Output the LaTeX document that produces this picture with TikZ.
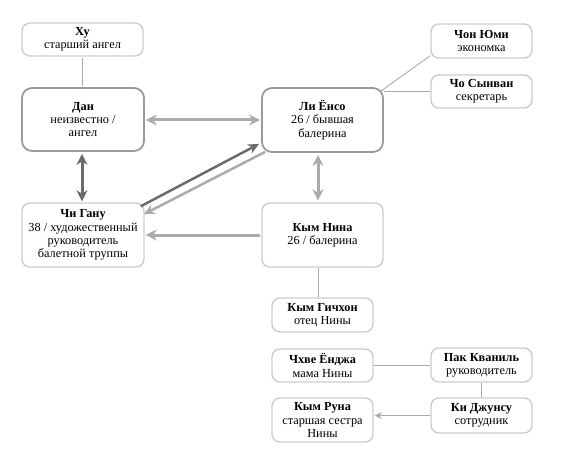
\documentclass[tikz,border=0pt]{standalone}
\usepackage{fontspec}
\setmainfont{Liberation Serif}
\usetikzlibrary{arrows.meta,calc}
\definecolor{lightbd}{HTML}{CCCCCC}
\definecolor{darkbd}{HTML}{9A9A9A}
\definecolor{arrgray}{HTML}{ABABAB}
\definecolor{arrdark}{HTML}{6B6B6B}
\definecolor{thinln}{HTML}{AAAAAA}
\tikzset{
  box/.style={draw=lightbd, line width=1.4pt, rounded corners=8pt, align=center,
    inner sep=0pt, font=\fontsize{12.3}{13.3}\selectfont, text=black},
  mainbox/.style={box, draw=darkbd, line width=1.8pt, rounded corners=10pt},
  thickarr/.style={draw=arrgray, line width=3pt, -{Stealth[length=11pt,width=11pt,inset=3.5pt]}},
  thickdbl/.style={draw=arrgray, line width=3pt, {Stealth[length=11pt,width=11pt,inset=3.5pt]}-{Stealth[length=11pt,width=11pt,inset=3.5pt]}},
  darkdbl/.style={draw=arrdark, line width=3pt, {Stealth[length=11pt,width=11pt,inset=3.5pt]}-{Stealth[length=11pt,width=11pt,inset=3.5pt]}},
  darkarr/.style={draw=arrdark, line width=2.5pt, -{Stealth[length=11pt,width=10pt,inset=3.5pt]}},
  lightarr/.style={draw=arrgray, line width=2.5pt, -{Stealth[length=11pt,width=10pt,inset=3.5pt]}},
  thin/.style={draw=thinln, line width=0.9pt},
  thinarr/.style={draw=thinln, line width=0.9pt, -{Stealth[length=7pt,width=7pt,inset=2pt]}},
}
\newcommand{\nm}[1]{\textbf{#1}}
\begin{document}
\begin{tikzpicture}[x=1pt,y=-1pt]
\useasboundingbox (0,0) rectangle (575,468);
\node[box, minimum width=121pt, minimum height=33pt] (hu) at (82.5,39.5) {\nm{Ху}\\старший ангел};
\node[mainbox, minimum width=122pt, minimum height=63pt] (dan) at (83,119.5) {\nm{Дан}\\неизвестно /\\ангел};
\node[box, minimum width=122pt, minimum height=64pt] (chi) at (83,235) {\nm{Чи Гану}\\38 / художественный\\руководитель\\балетной труппы};
\node[mainbox, minimum width=121pt, minimum height=64pt] (li) at (322.5,120) {\nm{Ли Ёнсо}\\26 / бывшая\\балерина};
\node[box, minimum width=121pt, minimum height=64pt] (nina) at (322.5,235) {\nm{Кым Нина}\\26 / балерина};
\node[box, minimum width=101pt, minimum height=34pt] (chon) at (481.5,41) {\nm{Чон Юми}\\экономка};
\node[box, minimum width=101pt, minimum height=33pt] (cho) at (481.5,91.5) {\nm{Чо Сынван}\\секретарь};
\node[box, minimum width=101pt, minimum height=34pt] (gich) at (322.5,315) {\nm{Кым Гичхон}\\отец Нины};
\node[box, minimum width=101pt, minimum height=33pt] (chhve) at (322.5,365.5) {\nm{Чхве Ёнджа}\\мама Нины};
\node[box, minimum width=101pt, minimum height=44pt] (runa) at (322.5,420) {\nm{Кым Руна}\\старшая сестра\\Нины};
\node[box, minimum width=101pt, minimum height=34pt] (pak) at (481.5,365) {\nm{Пак Кваниль}\\руководитель};
\node[box, minimum width=101pt, minimum height=35pt] (ki) at (481.5,415.5) {\nm{Ки Джунсу}\\сотрудник};

\draw[thin] ($(hu.south)+(-0.5,1)$) -- ($(dan.north)+(-1,-1)$);
\draw[thickdbl] ($(dan.east)+(1,0.5)$) -- ($(li.west)+(-1,0)$);
\draw[darkdbl] ($(dan.south)+(-1,2)$) -- ($(chi.north)+(-1,-1)$);
\draw[darkarr] ($(chi.north east)+(-4,4)$) -- ($(li.south west)+(-2,-9)$);
\draw[lightarr] ($(li.south west)+(4,-1)$) -- ($(chi.north east)+(-1,12)$);
\draw[thickarr] ($(nina.west)+(-1,0)$) -- ($(chi.east)+(1,0)$);
\draw[thickdbl] ($(li.south)+(-4.5,2)$) -- ($(nina.north)+(-4.5,-2)$);
\draw[thin] ($(li.north east)+(-3,4)$) -- ($(chon.south west)+(0,-3)$);
\draw[thin] (li.east |- cho.west) -- (cho.west);
\draw[thin] ($(nina.south)+(-4.5,0)$) -- ($(gich.north)+(-4.5,0)$);
\draw[thin] (chhve.east |- pak.west) -- (pak.west);
\draw[thin] (pak.south) -- (ki.north);
\draw[thinarr] (ki.west) -- ($(runa.east |- ki.west)+(1,0)$);
\end{tikzpicture}
\end{document}
